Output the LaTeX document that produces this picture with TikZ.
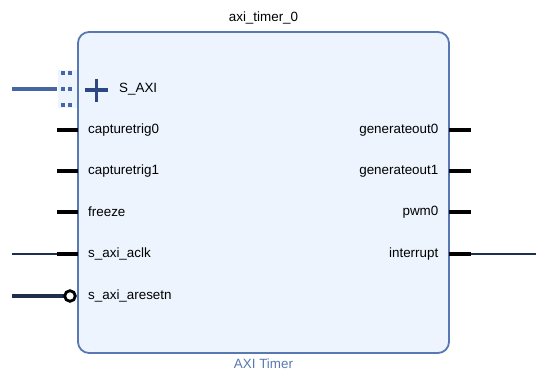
\documentclass[tikz,border=0pt]{standalone}
\usepackage{fontspec}
\setmainfont{Liberation Sans}
\usepackage{tikz}
\definecolor{boxfill}{RGB}{237,244,254}
\definecolor{boxline}{RGB}{88,120,180}
\definecolor{busblue}{RGB}{68,102,164}
\definecolor{wirenavy}{RGB}{32,46,78}
\definecolor{plusblue}{RGB}{44,72,130}
\newcommand{\drawstub}{\draw[line width=3.4pt]}
\newcommand{\leftpin}[3]{
  \coordinate (#1-w) at (57,#3);
  \coordinate (#1-e) at (78,#3);
  \drawstub (#1-w)--(#1-e);
  \node[pinlabel,anchor=west] (#1) at (88,#3) {#2};
}
\newcommand{\rightpin}[3]{
  \coordinate (#1-w) at (449,#3);
  \coordinate (#1-e) at (471,#3);
  \drawstub (#1-w)--(#1-e);
  \node[pinlabel,anchor=east] (#1) at (438.5,#3) {#2};
}
\tikzset{
  pinlabel/.style={inner sep=0pt,font=\fontsize{13.4}{16}\selectfont},
}

\begin{document}
\begin{tikzpicture}[x=1pt,y=-1pt]
\useasboundingbox (0,0) rectangle (536,372);
\draw[boxline,fill=boxfill,line width=1.8pt,rounded corners=11pt] (78,32) rectangle (449,353);
\node[pinlabel] (title) at (263.5,18) {axi\_timer\_0};
\node[pinlabel,text=boxline] (kind) at (263.5,364) {AXI Timer};
% S_AXI bus port
\fill[boxfill] (58,70) rectangle (77,108);
\foreach \x in {63,70}{
  \foreach \y in {73,89,105}{
    \fill[busblue] (\x-1.8,\y-1.8) rectangle (\x+1.8,\y+1.8);
  }
}
\coordinate (saxi-w) at (12,89);
\coordinate (saxi-e) at (57,89);
\draw[busblue,line width=4.2pt] (saxi-w)--(saxi-e);
\draw[plusblue,line width=3.6pt] (85,90)--(108,90) (96.5,78.5)--(96.5,101.5);
\node[pinlabel,anchor=west] (saxi) at (119,89) {S\_AXI};
% left pins
\leftpin{ct0}{capturetrig0}{130}
\leftpin{ct1}{capturetrig1}{171}
\leftpin{frz}{freeze}{212}
\leftpin{aclk}{s\_axi\_aclk}{254}
\coordinate (aclk-far) at (12,254);
\draw[wirenavy,line width=1.1pt] (aclk-far)--(aclk-w);
\coordinate (rst-w) at (12,296);
\coordinate (rst-c) at (70,296);
\draw[wirenavy,line width=3.3pt] (rst-w)--(64,296);
\draw[line width=2.8pt,fill=white] (rst-c) circle (5.3);
\node[pinlabel,anchor=west] (rst) at (88,296) {s\_axi\_aresetn};
% right pins
\rightpin{go0}{generateout0}{130}
\rightpin{go1}{generateout1}{171}
\rightpin{pwm}{pwm0}{212}
\rightpin{irq}{interrupt}{254}
\coordinate (irq-far) at (536,254);
\draw[wirenavy,line width=1.1pt] (irq-e)--(irq-far);
\end{tikzpicture}
\end{document}
